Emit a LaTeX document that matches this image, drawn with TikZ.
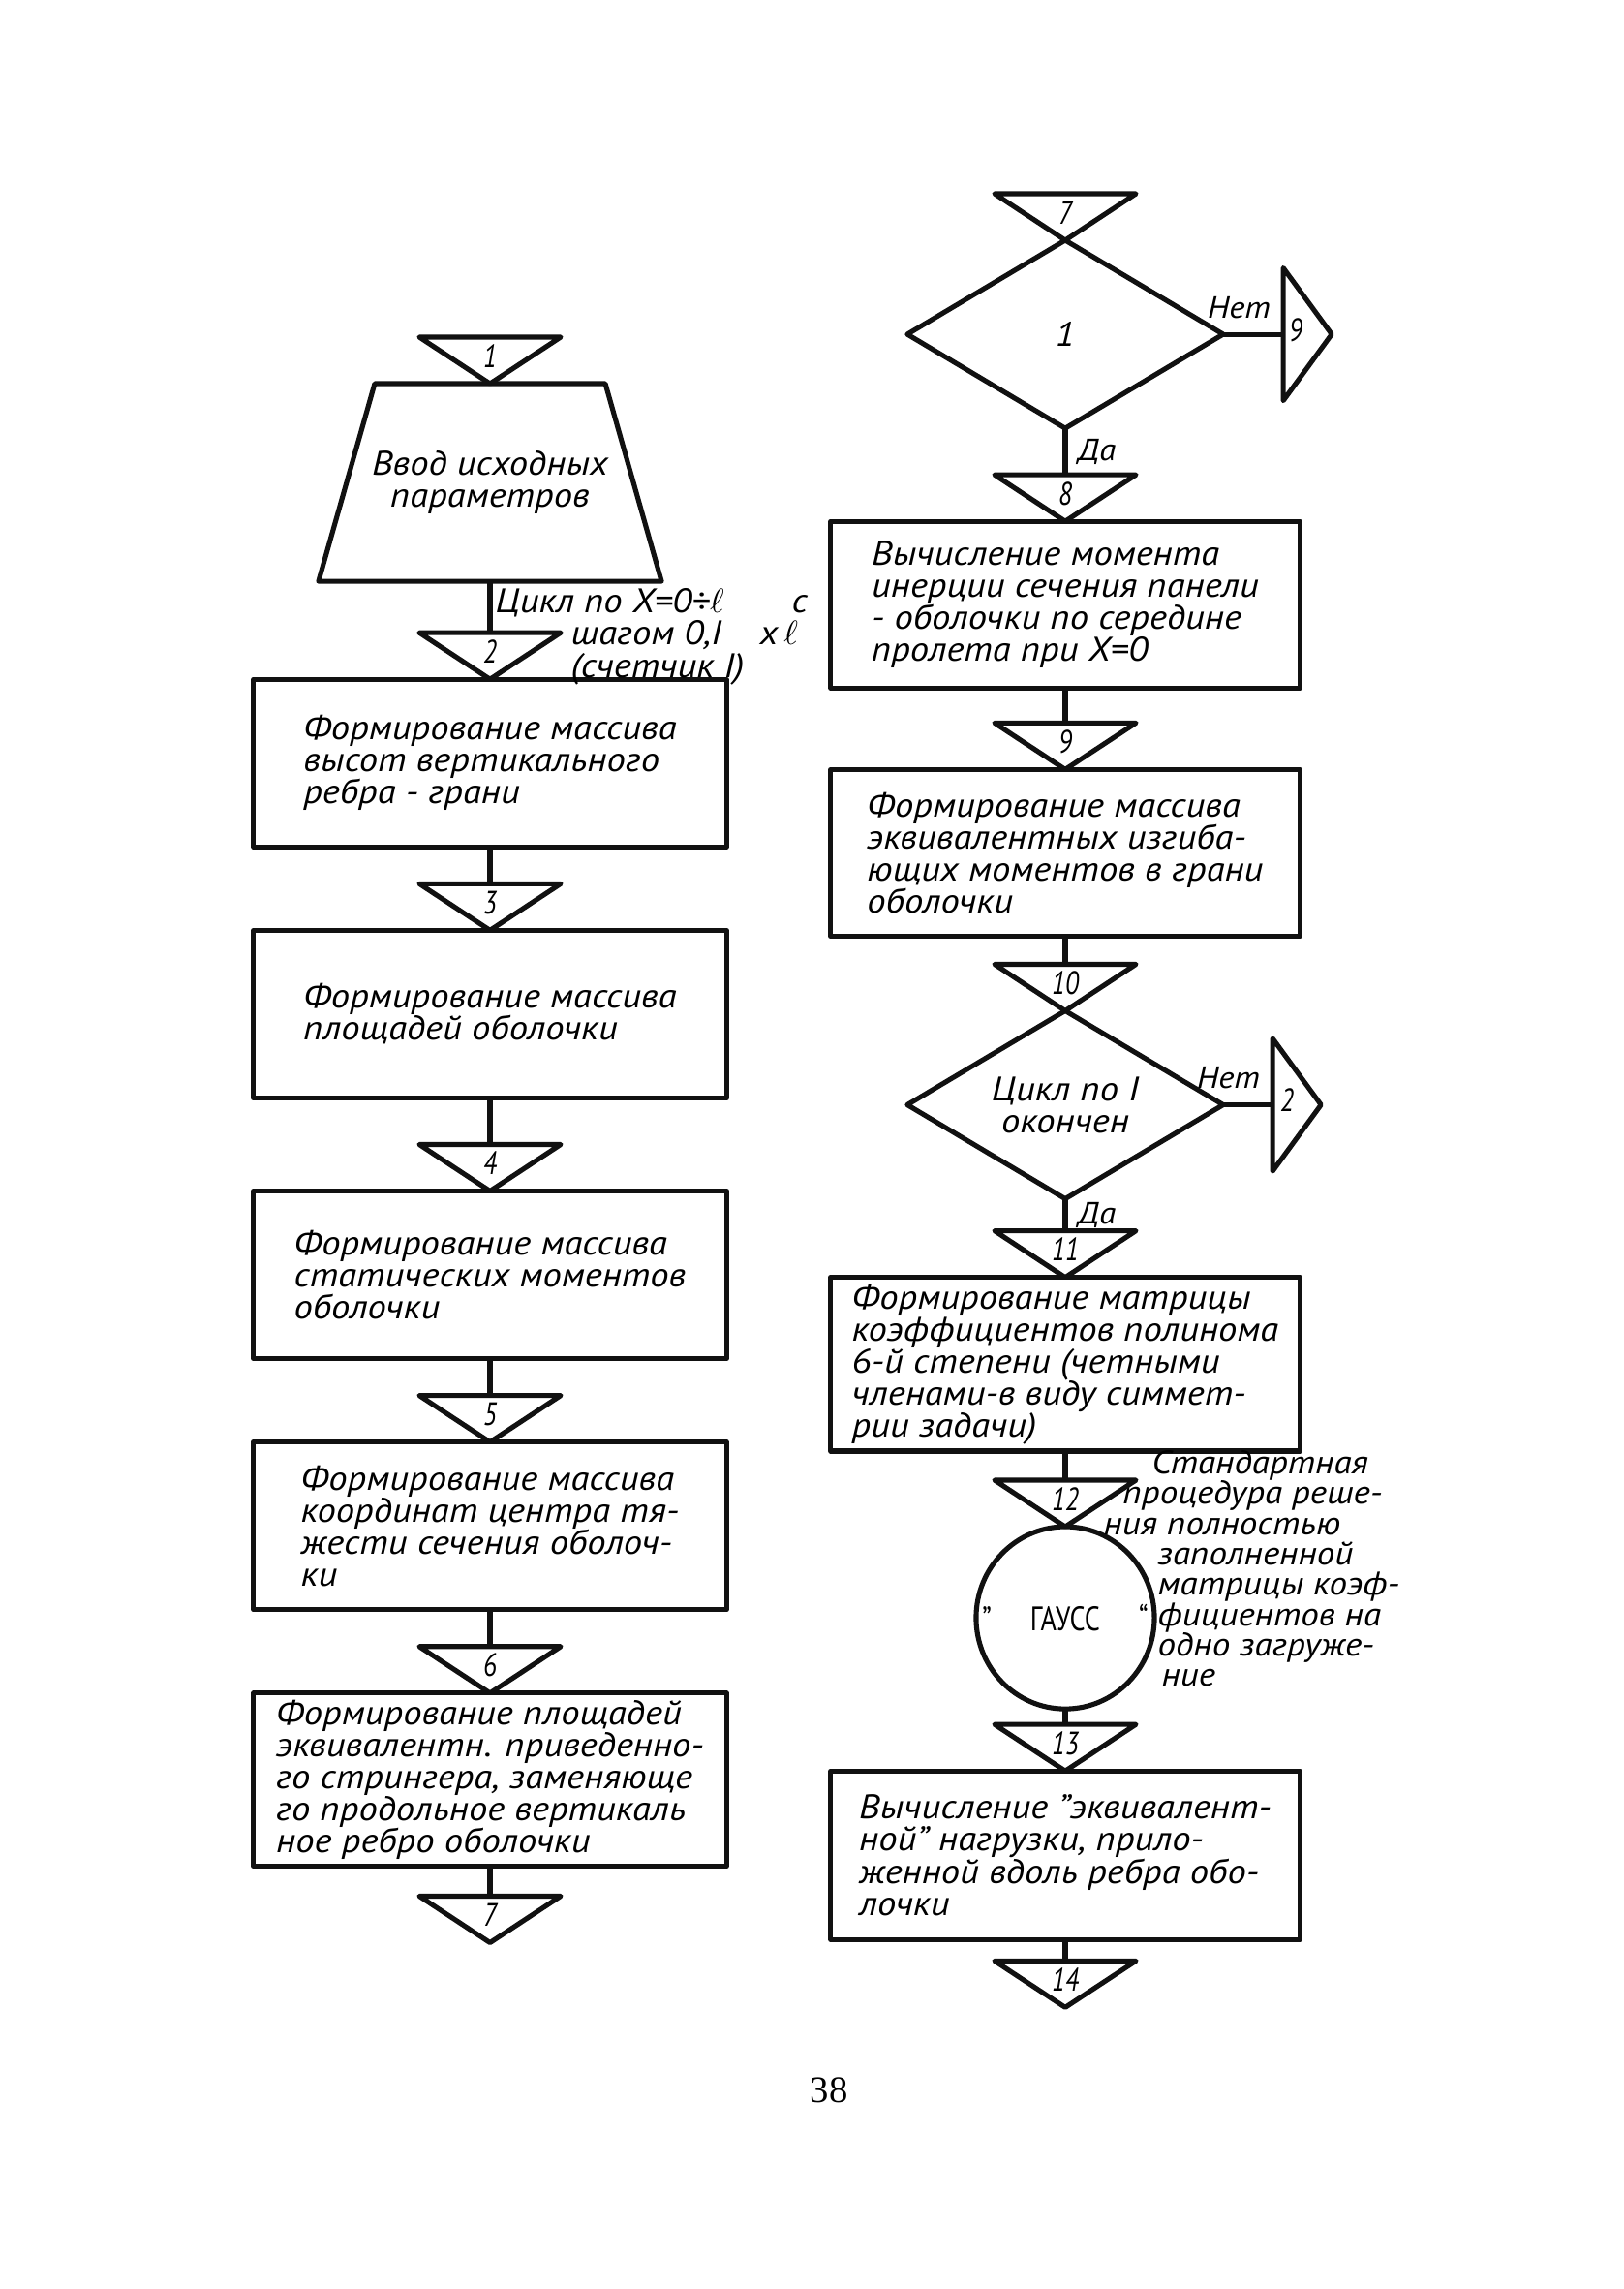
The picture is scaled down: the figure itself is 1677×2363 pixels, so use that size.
\documentclass[tikz,border=0pt]{standalone}
\usepackage{fontspec}
\setmainfont{PT Sans}[FakeStretch=1.1]
\newfontfamily\narrowfont{PT Sans}[FakeStretch=0.8]
\newfontfamily\pagefont{Liberation Serif}
\usetikzlibrary{positioning,shapes.geometric,calc}
\definecolor{ink}{HTML}{111111}

\begin{document}
\begin{tikzpicture}[
  x=0.01cm, y=-0.01cm,
  font=\itshape\fontsize{10}{9.4}\selectfont,
  line width=1.45pt, line join=round,
  node distance=0pt,
  procbox/.style={
    rectangle, draw=ink, minimum width=4.88cm, minimum height=1.73cm,
    align=left, inner sep=2pt, outer sep=0pt
  },
  rbox/.style={procbox, minimum width=4.84cm, minimum height=1.72cm},
  inputbox/.style={
    rectangle, minimum width=3.54cm, minimum height=2.04cm,
    align=center, inner sep=0pt, outer sep=0pt
  },
  decision/.style={
    diamond, aspect=1.7, draw=ink, minimum width=3.26cm,
    minimum height=1.94cm, align=center, inner sep=0pt, outer sep=0pt
  },
  offpage/.style={
    rectangle, minimum width=1.46cm, minimum height=0.48cm, inner sep=0pt,
    outer sep=0pt, text height=0.23cm, text depth=0.09cm,
    font=\narrowfont\itshape\fontsize{9.5}{11}\selectfont
  },
  sideoff/.style={
    offpage, minimum width=0.5cm, minimum height=1.37cm
  },
  gaussnode/.style={
    ellipse, draw=ink, minimum width=1.84cm, minimum height=1.88cm,
    inner sep=0pt, outer sep=0pt, font=\narrowfont\fontsize{10}{12}\selectfont
  },
  sidenote/.style={inner sep=0pt, align=left},
  tag/.style={inner sep=1pt, font=\itshape\fontsize{9}{10}\selectfont},
  flow/.style={draw=ink, line width=1.45pt},
]
\useasboundingbox (0,0) rectangle (1677,2363);

% left column: blocks 1-7
\node[offpage] (c1) at (506,372) {1};
\node[inputbox, below=of c1] (inp) {Ввод исходных\\параметров};
\node[offpage, below=0.53cm of inp] (c2) {2};
\node[procbox, below=of c2] (b1)
  {Формирование массива\\высот вертикального\\ребра - грани};
\node[offpage, below=0.38cm of b1] (c3) {3};
\node[procbox, below=of c3] (b2)
  {Формирование массива\\площадей оболочки};
\node[offpage, below=0.48cm of b2] (c4) {4};
\node[procbox, below=of c4] (b3)
  {Формирование массива\\статических моментов\\оболочки};
\node[offpage, below=0.38cm of b3] (c5) {5};
\node[procbox, below=of c5] (b4)
  {Формирование массива\\координат центра тя-\\жести сечения оболоч-\\ки};
\node[offpage, below=0.38cm of b4] (c6) {6};
\node[procbox, below=of c6] (b5)
  {Формирование площадей\\эквивалентн. приведенно-\\го стрингера, заменяюще\\го продольное вертикаль\\ное ребро оболочки};
\node[offpage, below=0.31cm of b5] (c7) {7};

% loop note beside connector 2
\node[sidenote, anchor=north west, font=\itshape\fontsize{10}{7.9}\selectfont]
  (loop) at ([xshift=0.03cm,yshift=-0.05cm]inp.south)
  {\makebox[3.06cm][l]{Цикл по X=0÷$\ell$}с\\
   \hspace*{0.78cm}\makebox[1.95cm][l]{шагом 0,I}x\,$\ell$\\
   \hspace*{0.78cm}(счетчик I)};

% right column: blocks 7-14
\node[offpage] (r7) at (1100,224) {7};
\node[decision, below=of r7] (d1) {1};
\node[sideoff, right=0.62cm of d1] (n9) {9\hspace*{0.24cm}};
\node[offpage, below=0.48cm of d1] (c8) {8};
\node[rbox, below=of c8] (b6)
  {Вычисление момента\\инерции сечения панели\\- оболочки по середине\\пролета при X=0};
\node[offpage, below=0.36cm of b6] (c9) {9};
\node[rbox, below=of c9] (b7)
  {Формирование массива\\эквивалентных изгиба-\\ющих моментов в грани\\оболочки};
\node[offpage, below=0.29cm of b7] (c10) {10};
\node[decision, below=of c10] (d2) {Цикл по I\\окончен};
\node[sideoff, right=0.51cm of d2] (n2) {2\hspace*{0.2cm}};
\node[offpage, below=0.33cm of d2] (c11) {11};
\node[rbox, below=of c11] (b8)
  {Формирование матрицы\\коэффициентов полинома\\6-й степени (четными\\членами-в виду симмет-\\рии задачи)};
\node[offpage, below=0.30cm of b8] (c12) {12};
\node[gaussnode, below=of c12] (gauss)
  {\makebox[0pt]{”\hspace{0.4cm}ГАУСС\hspace{0.4cm}“}};
\node[offpage, below=0.16cm of gauss] (c13) {13};
\node[rbox, minimum height=1.74cm, below=of c13] (b9)
  {Вычисление ”эквивалент-\\ной” нагрузки, прило-\\женной вдоль ребра обо-\\лочки};
\node[offpage, below=0.22cm of b9] (c14) {14};

\node[sidenote, anchor=north west, font=\itshape\fontsize{9.6}{8.9}\selectfont]
  (gnote) at ([xshift=-0.36cm,yshift=0.33cm]c12.north east)
  {\hspace*{0.5cm}Стандартная\\
   \hspace*{0.2cm}процедура реше-\\
   ния полностью\\
   \hspace*{0.56cm}заполненной\\
   \hspace*{0.56cm}матрицы коэф-\\
   \hspace*{0.56cm}фициентов на\\
   \hspace*{0.56cm}одно загруже-\\
   \hspace*{0.6cm}ние};

\node[font=\pagefont\fontsize{11}{13}\selectfont] (pageno) at (856,2158) {38};

% input block outline and connector triangles
\draw[flow] (inp.south west) -- ([xshift=0.58cm]inp.north west)
  -- ([xshift=-0.58cm]inp.north east) -- (inp.south east) -- cycle;
\foreach \c in {c1,c2,c3,c4,c5,c6,c7,r7,c8,c9,c10,c11,c12,c13,c14}
  \draw[flow] (\c.north west) -- (\c.north east) -- (\c.south) -- cycle;
\foreach \c in {n9,n2}
  \draw[flow] (\c.north west) -- (\c.east) -- (\c.south west) -- cycle;

\draw[flow] (inp) -- (c2);
\draw[flow] (b1) -- (c3);
\draw[flow] (b2) -- (c4);
\draw[flow] (b3) -- (c5);
\draw[flow] (b4) -- (c6);
\draw[flow] (b5) -- (c7);
\draw[flow] (d1) -- node[tag, right=2pt] {Да} (c8);
\draw[flow] (d1) -- node[tag, above left, pos=1, xshift=-2pt, yshift=3pt] {Нет} (n9);
\draw[flow] (b6) -- (c9);
\draw[flow] (b7) -- (c10);
\draw[flow] (d2) -- node[tag, right=2pt] {Да} (c11);
\draw[flow] (d2) -- node[tag, above left, pos=1, xshift=-2pt, yshift=3pt] {Нет} (n2);
\draw[flow] (b8) -- (c12);
\draw[flow] (gauss) -- (c13);
\draw[flow] (b9) -- (c14);

\end{tikzpicture}
\end{document}
